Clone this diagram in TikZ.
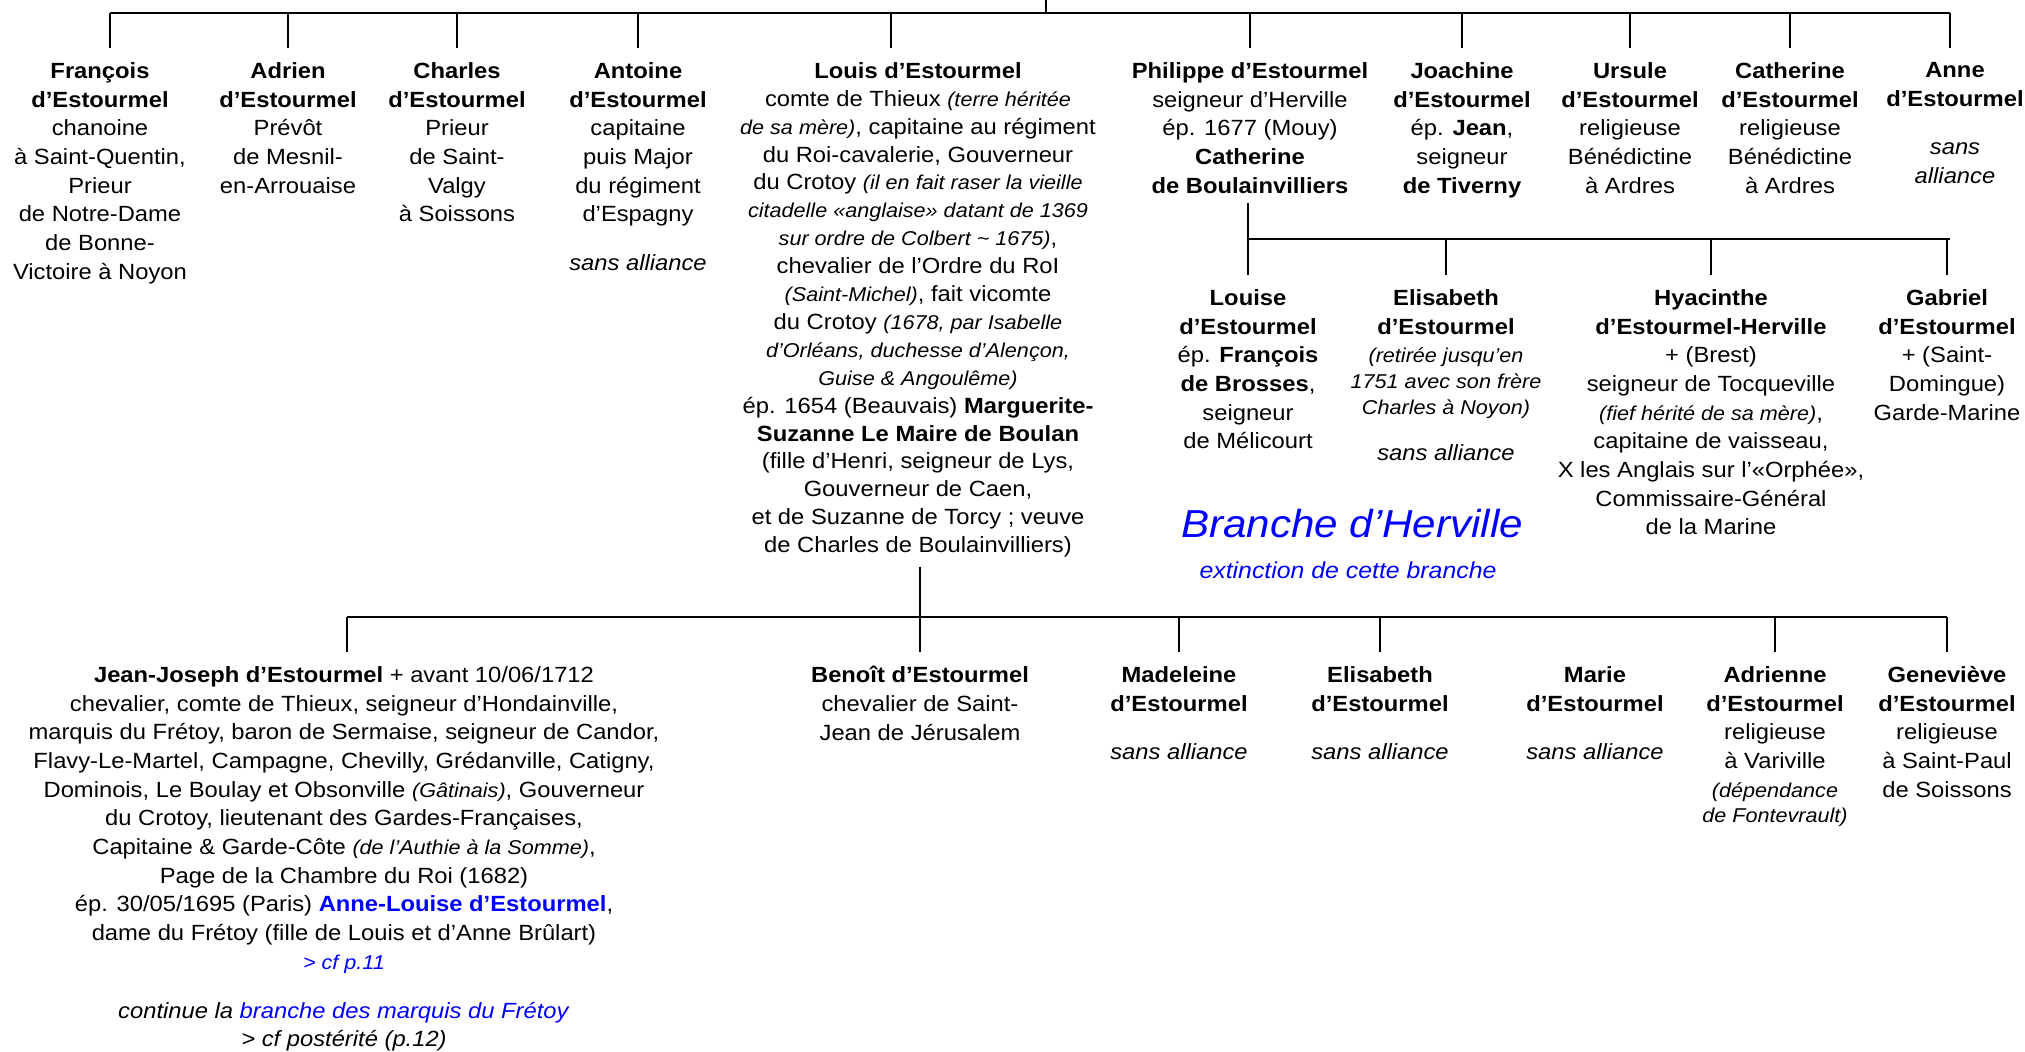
\documentclass[tikz,border=0pt]{standalone}
\usepackage{fontspec}
\setmainfont{Liberation Sans}[FakeStretch=1.08]
\usepackage{xcolor}
\tikzset{
	person/.style={align=center,anchor=north,inner sep=0pt,font=\fontsize{11}{14.35}\selectfont},
	link/.style={line width=1.3pt},
	tick/.style={line width=1.3pt,shorten >=7pt},
	branche/.style={anchor=base,inner sep=0pt,text=blue,font=\itshape\fontsize{19.5}{22}\selectfont}
}
\newcommand{\nt}[1]{{\fontsize{10}{12}\selectfont\itshape #1}}

\begin{document}
\begin{tikzpicture}[x=0.5pt,y=-0.5pt]
	\useasboundingbox[fill=white] (0,0) rectangle (2025,1051);
	\node[person] (1) at (100,62) {\textbf{François}\\\textbf{d’Estourmel}\\chanoine\\à Saint-Quentin,\\Prieur\\de Notre-Dame\\de Bonne-\\Victoire à Noyon};
	\node[person] (2) at (288,62) {\textbf{Adrien}\\\textbf{d’Estourmel}\\Prévôt\\de Mesnil-\\en-Arrouaise};
	\node[person] (3) at (457,62) {\textbf{Charles}\\\textbf{d’Estourmel}\\Prieur\\de Saint-\\Valgy\\à Soissons};
	\node[person] (4) at (638,62) {\textbf{Antoine}\\\textbf{d’Estourmel}\\capitaine\\puis Major\\du régiment\\d’Espagny\\[10pt]\textit{sans alliance}};
	\node[person,font=\fontsize{11}{13.95}\selectfont] (5) at (918,62) {\textbf{Louis d’Estourmel}\\comte de Thieux \nt{(terre héritée}\\\nt{de sa mère)}, capitaine au régiment\\du Roi-cavalerie, Gouverneur\\du Crotoy \nt{(il en fait raser la vieille}\\\nt{citadelle «anglaise» datant de 1369}\\\nt{sur ordre de Colbert \textasciitilde{} 1675)},\\chevalier de l’Ordre du RoI\\\nt{(Saint-Michel)}, fait vicomte\\du Crotoy \nt{(1678, par Isabelle}\\\nt{d’Orléans, duchesse d’Alençon,}\\\nt{Guise \& Angoulême)}\\ép. 1654 (Beauvais) \textbf{Marguerite-}\\\textbf{Suzanne Le Maire de Boulan}\\(fille d’Henri, seigneur de Lys,\\Gouverneur de Caen,\\et de Suzanne de Torcy ; veuve\\de Charles de Boulainvilliers)};
	\node[person] (6) at (1250,62) {\textbf{Philippe d’Estourmel}\\seigneur d’Herville\\ép. 1677 (Mouy)\\\textbf{Catherine}\\\textbf{de Boulainvilliers}};
	\node[person] (7) at (1462,62) {\textbf{Joachine}\\\textbf{d’Estourmel}\\ép. \textbf{Jean},\\seigneur\\\textbf{de Tiverny}};
	\node[person] (8) at (1630,62) {\textbf{Ursule}\\\textbf{d’Estourmel}\\religieuse\\Bénédictine\\à Ardres};
	\node[person] (9) at (1790,62) {\textbf{Catherine}\\\textbf{d’Estourmel}\\religieuse\\Bénédictine\\à Ardres};
	\node[person] (10) at (1955,62) {\textbf{Anne}\\\textbf{d’Estourmel}\\[10pt]\textit{sans}\\\textit{alliance}};

	\node[person] (11) at (1248,289) {\textbf{Louise}\\\textbf{d’Estourmel}\\ép. \textbf{François}\\\textbf{de Brosses},\\seigneur\\de Mélicourt};
	\node[person] (12) at (1446,289) {\textbf{Elisabeth}\\\textbf{d’Estourmel}\\\nt{(retirée jusqu’en}\\[-1.5pt]\nt{1751 avec son frère}\\[-1.5pt]\nt{Charles à Noyon)}\\[9pt]\textit{sans alliance}};
	\node[person] (13) at (1711,289) {\textbf{Hyacinthe}\\\textbf{d’Estourmel-Herville}\\+ (Brest)\\seigneur de Tocqueville\\\nt{(fief hérité de sa mère)},\\capitaine de vaisseau,\\X les Anglais sur l’«Orphée»,\\Commissaire-Général\\de la Marine};
	\node[person] (14) at (1947,289) {\textbf{Gabriel}\\\textbf{d’Estourmel}\\+ (Saint-\\Domingue)\\Garde-Marine};
	\node[branche] (15) at (1352,537) {Branche d’Herville};
	\node[branche,font=\itshape\fontsize{11.5}{14}\selectfont] (16) at (1348,578) {extinction de cette branche};

	\node[person] (17) at (344,666) {\textbf{Jean-Joseph d’Estourmel} + avant 10/06/1712\\chevalier, comte de Thieux, seigneur d’Hondainville,\\marquis du Frétoy, baron de Sermaise, seigneur de Candor,\\Flavy-Le-Martel, Campagne, Chevilly, Grédanville, Catigny,\\Dominois, Le Boulay et Obsonville \nt{(Gâtinais)}, Gouverneur\\du Crotoy, lieutenant des Gardes-Françaises,\\Capitaine \& Garde-Côte \nt{(de l’Authie à la Somme)},\\Page de la Chambre du Roi (1682)\\ép. 30/05/1695 (Paris) \textcolor{blue}{\textbf{Anne-Louise d’Estourmel}},\\dame du Frétoy (fille de Louis et d’Anne Brûlart)\\\textcolor{blue}{\nt{> cf p.11}}\\[10pt]\textit{continue la} \textcolor{blue}{\textit{branche des marquis du Frétoy}}\\\textit{> cf postérité (p.12)}};
	\node[person] (18) at (920,666) {\textbf{Benoît d’Estourmel}\\chevalier de Saint-\\Jean de Jérusalem};
	\node[person] (19) at (1179,666) {\textbf{Madeleine}\\\textbf{d’Estourmel}\\[10pt]\textit{sans alliance}};
	\node[person] (20) at (1380,666) {\textbf{Elisabeth}\\\textbf{d’Estourmel}\\[10pt]\textit{sans alliance}};
	\node[person] (21) at (1595,666) {\textbf{Marie}\\\textbf{d’Estourmel}\\[10pt]\textit{sans alliance}};
	\node[person] (22) at (1775,666) {\textbf{Adrienne}\\\textbf{d’Estourmel}\\religieuse\\à Variville\\\nt{(dépendance}\\[-1.5pt]\nt{de Fontevrault)}};
	\node[person] (23) at (1947,666) {\textbf{Geneviève}\\\textbf{d’Estourmel}\\religieuse\\à Saint-Paul\\de Soissons};

	\coordinate (top) at (1046,0);
	\coordinate (l1) at (110,13);
	\coordinate (r1) at (1950,13);
	\draw[link] (l1) -- (r1);
	\draw[link] (top) -- (top |- l1);
	\coordinate (t1) at ([xshift=5pt]1.north);
	\coordinate (t5) at ([xshift=-13.5pt]5.north);
	\coordinate (t10) at ([xshift=-2.5pt]10.north);
	\draw[tick] (t1 |- l1) -- (t1);
	\draw[tick] (2.north |- l1) -- (2.north);
	\draw[tick] (3.north |- l1) -- (3.north);
	\draw[tick] (4.north |- l1) -- (4.north);
	\draw[tick] (t5 |- l1) -- (t5);
	\draw[tick] (6.north |- l1) -- (6.north);
	\draw[tick] (7.north |- l1) -- (7.north);
	\draw[tick] (8.north |- l1) -- (8.north);
	\draw[tick] (9.north |- l1) -- (9.north);
	\draw[tick] (t10 |- l1) -- (t10);

	\coordinate (l2) at (1248,239);
	\coordinate (r2) at (1950,239);
	\draw[link] (l2) -- (r2);
	\draw[tick,shorten <=4.5pt] (11.north |- 6.south) -- (11.north);
	\draw[tick] (12.north |- l2) -- (12.north);
	\draw[tick] (13.north |- l2) -- (13.north);
	\draw[tick] (14.north |- l2) -- (14.north);

	\coordinate (l3) at (347,617);
	\coordinate (r3) at (1947,617);
	\draw[link] (l3) -- (r3);
	\draw[tick,shorten <=4.5pt] (18.north |- 5.south) -- (18.north);
	\draw[tick] (l3) -- (l3 |- 17.north);
	\draw[tick] (19.north |- l3) -- (19.north);
	\draw[tick] (20.north |- l3) -- (20.north);
	\draw[tick] (22.north |- l3) -- (22.north);
	\draw[tick] (23.north |- l3) -- (23.north);
\end{tikzpicture}
\end{document}
